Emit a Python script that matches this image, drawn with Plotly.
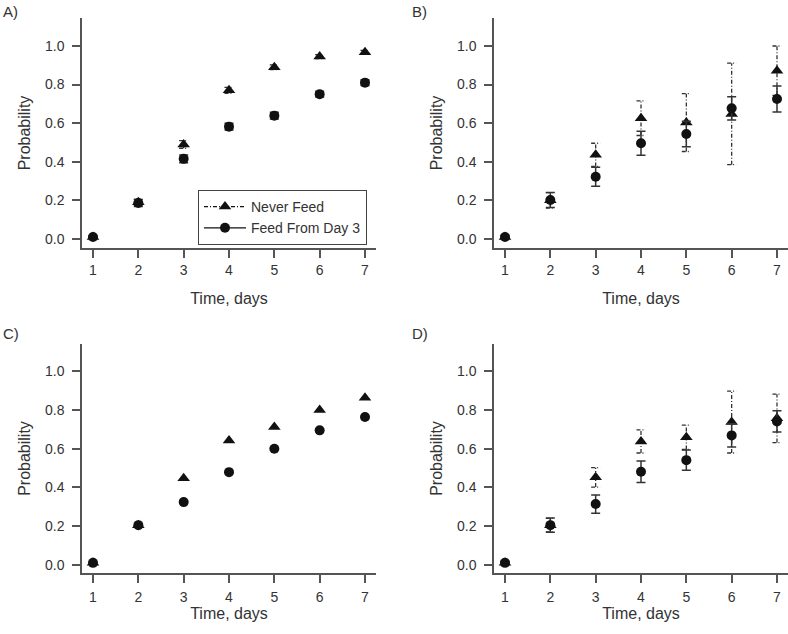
import plotly.graph_objects as go

# ---------------- data ----------------
days = [1, 2, 3, 4, 5, 6, 7]
y_ticks = [0.0, 0.2, 0.4, 0.6, 0.8, 1.0]
y_tick_text = ["0.0", "0.2", "0.4", "0.6", "0.8", "1.0"]
panel_labels = ["A)", "B)", "C)", "D)"]
series_names = ["Never Feed", "Feed From Day 3"]
x_title = "Time, days"
y_title = "Probability"

# Panel A
never_A = [0.01, 0.19, 0.49, 0.77, 0.89, 0.945, 0.967]
never_A_err = [0.006, 0.015, 0.02, 0.015, 0.012, 0.01, 0.01]
feed_A = [0.01, 0.186, 0.415, 0.582, 0.639, 0.75, 0.81]
feed_A_err = [0.006, 0.018, 0.02, 0.018, 0.018, 0.015, 0.015]

# Panel B
never_B = [0.01, 0.20, 0.436, 0.626, 0.603, 0.648, 0.872]
never_B_err = [0.008, 0.04, 0.06, 0.09, 0.15, 0.263, 0.128]
feed_B = [0.01, 0.202, 0.322, 0.496, 0.544, 0.677, 0.725]
feed_B_err = [0.008, 0.039, 0.049, 0.062, 0.066, 0.06, 0.067]

# Panel C (no error bars)
never_C = [0.01, 0.205, 0.447, 0.643, 0.712, 0.80, 0.864]
feed_C = [0.01, 0.205, 0.324, 0.479, 0.60, 0.695, 0.764]

# Panel D
never_D = [0.01, 0.205, 0.452, 0.638, 0.659, 0.738, 0.757]
never_D_err = [0.008, 0.035, 0.05, 0.06, 0.063, 0.16, 0.125]
feed_D = [0.01, 0.205, 0.314, 0.481, 0.541, 0.669, 0.741]
feed_D_err = [0.008, 0.037, 0.047, 0.055, 0.052, 0.06, 0.055]

# ---------------- styling ----------------
W, H = 788, 634
FONT = "Liberation Sans, Arial, Helvetica, sans-serif"
INK = "#111111"
AXC = "#555555"
TXT = "#333333"
ERRC = "#333333"
DASHDOT = "4px,2px,1px,2px"
CAP_HALF = 0.1  # half-width of error bar caps in x-data units


def px_dom(a, b, size):
    return [a / size, b / size]


def py_dom(top, bottom):
    return [1 - bottom / H, 1 - top / H]


panels = [
    dict(x=px_dom(82, 376, W), y=py_dom(18, 248), yr=[-0.047, 1.145],
         never=never_A, never_err=never_A_err, feed=feed_A, feed_err=feed_A_err,
         lab_x=1, lab_y=1, xstand=16, tstand=0),
    dict(x=px_dom(494, 788, W), y=py_dom(18, 248), yr=[-0.047, 1.145],
         never=never_B, never_err=never_B_err, feed=feed_B, feed_err=feed_B_err,
         lab_x=410, lab_y=1, xstand=16, tstand=0),
    dict(x=px_dom(82, 376, W), y=py_dom(343.7, 573.3), yr=[-0.044, 1.143],
         never=never_C, never_err=None, feed=feed_C, feed_err=None,
         lab_x=1, lab_y=323, xstand=3, tstand=2),
    dict(x=px_dom(494, 788, W), y=py_dom(343.7, 573.3), yr=[-0.044, 1.143],
         never=never_D, never_err=never_D_err, feed=feed_D, feed_err=feed_D_err,
         lab_x=410, lab_y=323, xstand=3, tstand=2),
]


def errbar_segments(xs, ys, errs):
    ex, ey = [], []
    for x, y, e in zip(xs, ys, errs):
        lo, hi = y - e, y + e
        ex += [x, x, None, x - CAP_HALF, x + CAP_HALF, None, x - CAP_HALF, x + CAP_HALF, None]
        ey += [lo, hi, None, hi, hi, None, lo, lo, None]
    return ex, ey


fig = go.Figure()
layout = dict(
    width=W, height=H,
    margin=dict(l=0, r=0, t=0, b=0),
    paper_bgcolor="white", plot_bgcolor="white",
    font=dict(family=FONT, size=14, color=TXT),
    showlegend=True,
    annotations=[],
)

for i, p in enumerate(panels):
    n = i + 1
    xa = "x" if n == 1 else f"x{n}"
    ya = "y" if n == 1 else f"y{n}"
    # triangle error bars (dash-dot)
    if p["never_err"] is not None:
        ex, ey = errbar_segments(days, p["never"], p["never_err"])
        fig.add_trace(go.Scatter(x=ex, y=ey, mode="lines", xaxis=xa, yaxis=ya,
                                 line=dict(color=ERRC, width=1.3, dash=DASHDOT),
                                 showlegend=False, hoverinfo="skip", cliponaxis=False))
    fig.add_trace(go.Scatter(x=days, y=p["never"], mode="markers", xaxis=xa, yaxis=ya,
                             name=series_names[0], showlegend=False, cliponaxis=False,
                             marker=dict(symbol="triangle-up", size=11, color=INK)))
    feed_err = None
    if p["feed_err"] is not None:
        feed_err = dict(type="data", array=p["feed_err"], visible=True,
                        color=ERRC, thickness=1.5, width=4.5)
    fig.add_trace(go.Scatter(x=days, y=p["feed"], mode="markers", xaxis=xa, yaxis=ya,
                             name=series_names[1], showlegend=False, error_y=feed_err,
                             cliponaxis=False,
                             marker=dict(symbol="circle", size=10, color=INK)))

    common_axis = dict(showgrid=False, zeroline=False, showline=True, linecolor=AXC,
                       linewidth=1.5, ticks="outside", ticklen=8, tickwidth=1.5,
                       tickcolor=AXC, tickfont=dict(size=14, color=TXT, family=FONT),
                       title_font=dict(size=16, color=TXT, family=FONT))
    layout["xaxis" if n == 1 else f"xaxis{n}"] = dict(
        common_axis, domain=p["x"], range=[0.757, 7.243], tickvals=days,
        anchor=ya, title=dict(text=x_title, standoff=p["xstand"]),
        ticklabelstandoff=p["tstand"])
    layout["yaxis" if n == 1 else f"yaxis{n}"] = dict(
        common_axis, domain=p["y"], range=p["yr"], tickvals=y_ticks, ticktext=y_tick_text,
        anchor=xa, title=dict(text=y_title, standoff=10), ticklabelstandoff=5)
    layout["annotations"].append(dict(
        text=panel_labels[i], x=p["lab_x"] / W, y=1 - p["lab_y"] / H, xref="paper", yref="paper",
        xanchor="left", yanchor="top", showarrow=False,
        font=dict(size=15, color=TXT, family=FONT)))

# legend-only entries (line + marker samples)
fig.add_trace(go.Scatter(x=[None], y=[None], mode="lines+markers", name=series_names[0],
                         line=dict(color=INK, width=1.3, dash=DASHDOT),
                         marker=dict(symbol="triangle-up", size=11, color=INK)))
fig.add_trace(go.Scatter(x=[None], y=[None], mode="lines+markers", name=series_names[1],
                         line=dict(color=INK, width=1.3),
                         marker=dict(symbol="circle", size=10, color=INK)))

layout["legend"] = dict(x=198 / W, y=1 - 190 / H, xanchor="left", yanchor="top",
                        bordercolor="#444444", borderwidth=1, bgcolor="white",
                        font=dict(size=14, color=TXT, family=FONT),
                        tracegroupgap=0, itemwidth=42)
fig.update_layout(**layout)
fig.write_html("out.html",
               config={"displayModeBar": False},
               post_script="document.body.style.margin='0px';"
                           "document.body.style.overflow='hidden';")
